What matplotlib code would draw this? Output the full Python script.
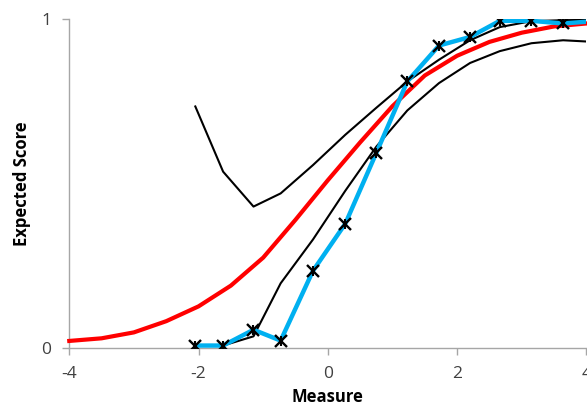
import matplotlib
matplotlib.use("Agg")
import matplotlib.pyplot as plt

# Model expected score curve (red)
model_x = [-4.0, -3.5, -3.0, -2.5, -2.0, -1.5, -1.0, -0.5, 0.0, 0.5, 1.0, 1.5, 2.0, 2.5, 3.0, 3.5, 4.0]
model_y = [0.022, 0.030, 0.048, 0.082, 0.127, 0.190, 0.275, 0.390, 0.510, 0.625, 0.735, 0.828, 0.888, 0.930, 0.958, 0.977, 0.986]

# Observed (empirical) scores (blue with markers)
obs_x = [-2.05, -1.62, -1.15, -0.73, -0.23, 0.27, 0.75, 1.23, 1.72, 2.20, 2.66, 3.15, 3.64, 4.12]
obs_y = [0.008, 0.008, 0.056, 0.023, 0.235, 0.378, 0.593, 0.810, 0.919, 0.945, 0.994, 0.994, 0.986, 0.993]

# Confidence band lines (black)
upper_y = [0.734, 0.536, 0.430, 0.470, 0.556, 0.648, 0.730, 0.810, 0.876, 0.935, 0.975, 0.993, 0.996, 0.997]
lower_y = [0.008, 0.008, 0.036, 0.197, 0.330, 0.478, 0.612, 0.722, 0.805, 0.866, 0.902, 0.926, 0.935, 0.930]

x_ticks = [-4, -2, 0, 2, 4]
x_ticklabels = ["-4", "-2", "0", "2", "4"]
y_ticks = [0, 1]
y_ticklabels = ["0", "1"]

plt.rcParams['font.family'] = ['Open Sans', 'DejaVu Sans']

fig = plt.figure(figsize=(5.87, 4.19), dpi=100)
ax = fig.add_axes([0.118, 0.169, 0.881, 0.786])

ax.plot(obs_x, upper_y, color='black', lw=1.5, zorder=2, clip_on=True)
ax.plot(obs_x, lower_y, color='black', lw=1.5, zorder=2, clip_on=True)
ax.plot(model_x, model_y, color='#FF0000', lw=3, zorder=3, clip_on=False)
ax.plot(obs_x, obs_y, color='#00B0F0', lw=3.2, zorder=4)
ax.plot(obs_x, obs_y, linestyle='none', marker='x', ms=8, mew=1.7, color='black', zorder=5)
ax.plot(obs_x, obs_y, linestyle='none', marker='|', ms=7, mew=1.5, color='black', zorder=5)

ax.set_xlim(-4, 4)
ax.set_ylim(0, 1)
ax.set_xticks(x_ticks)
ax.set_xticklabels(x_ticklabels)
ax.set_yticks(y_ticks)
ax.set_yticklabels(y_ticklabels)

for s in ['top', 'right']:
    ax.spines[s].set_visible(False)
for s in ['left', 'bottom']:
    ax.spines[s].set_color('#A6A6A6')
    ax.spines[s].set_linewidth(1.0)
ax.tick_params(axis='both', direction='out', length=5, width=1, color='#A6A6A6',
               labelsize=12.5, labelcolor='#404040', pad=8)

ax.set_xlabel('Measure', fontsize=12, fontweight='bold', labelpad=4)
ax.set_ylabel('Expected Score', fontsize=12, fontweight='bold', labelpad=7)

fig.savefig('out.png', dpi=100)
